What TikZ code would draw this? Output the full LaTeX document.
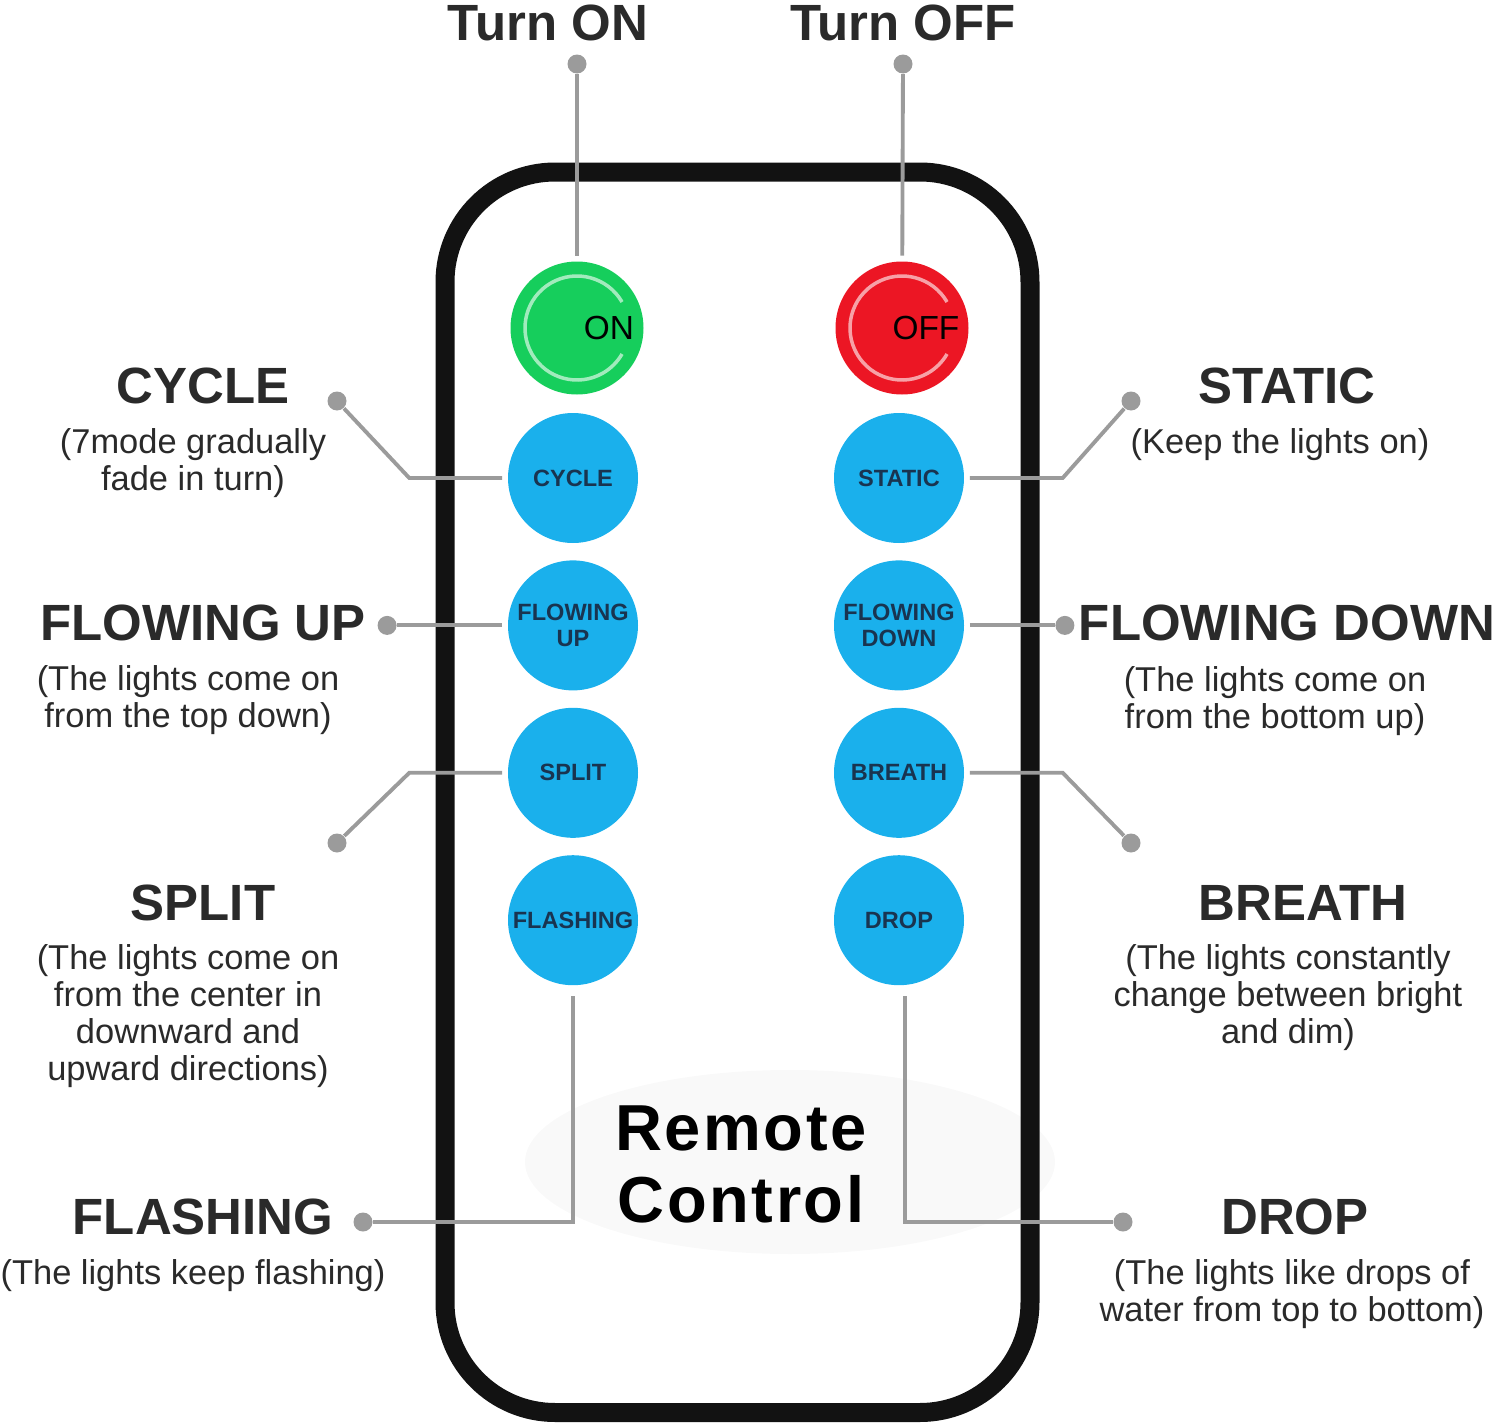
\documentclass[tikz,border=0pt]{standalone}
\usepackage{fontspec}
\setmainfont{Liberation Sans}
\usetikzlibrary{positioning}

\definecolor{btnblue}{RGB}{26,176,236}
\definecolor{btngreen}{RGB}{22,206,92}
\definecolor{btnred}{RGB}{236,22,36}
\definecolor{btntxt}{RGB}{25,52,80}
\definecolor{leadgray}{RGB}{155,155,155}
\definecolor{txtgray}{RGB}{42,42,42}
\definecolor{bodyblack}{RGB}{18,18,18}

\begin{document}
\begin{tikzpicture}[node distance=0.16cm,every node/.append style={align=center,inner sep=0pt},
    btn/.style={circle, fill=btnblue, minimum size=1.3cm, inner sep=-3pt, text=btntxt, font=\bfseries\fontsize{6.7}{7.4}\selectfont},
    pwr/.style={circle, minimum size=1.33cm},
    ttl/.style={text=txtgray, font=\bfseries\fontsize{14.5}{16}\selectfont},
    desc/.style={text=txtgray, anchor=north, font=\fontsize{9.8}{10.5}\selectfont},
    leader/.style={draw=leadgray, line width=1.1pt, shorten <=1.5pt},
    leaddot/.style={circle, fill=leadgray, minimum size=0.19cm}]
    \useasboundingbox (0,0) rectangle (15,-14.26);
    % remote body
    \fill[black!2.5] (7.9,-11.62) ellipse [x radius=2.65, y radius=0.92];
    \draw[bodyblack, line width=0.19cm, rounded corners=1.1cm] (4.45,-1.72) rectangle (10.30,-14.125);
    \node[font=\bfseries\fontsize{18.5}{20.5}\selectfont\addfontfeature{LetterSpace=4}, anchor=north] (rc) at (7.41,-11.05) {Remote\\Control};
    % buttons
    \node[pwr, fill=btngreen] (on) at (5.77,-3.28) {};
    \node[pwr, fill=btnred] (off) at (9.02,-3.28) {};
    \draw[white, opacity=0.6, line width=1pt] (on.center) ++(30:0.52) arc[start angle=30, end angle=330, radius=0.52];
    \draw[white, opacity=0.6, line width=1pt] (off.center) ++(30:0.52) arc[start angle=30, end angle=330, radius=0.52];
    \node[font=\fontsize{9.5}{10}\selectfont] (ontxt) at ([xshift=0.32cm]on.center) {ON};
    \node[font=\fontsize{9.5}{10}\selectfont] (offtxt) at ([xshift=0.24cm]off.center) {OFF};
    \node[btn] (cycle) at (5.73,-4.78) {CYCLE};
    \node[btn, below=of cycle] (flowup) {FLOWING\\UP};
    \node[btn, below=of flowup] (split) {SPLIT};
    \node[btn, below=of split] (flash) {FLASHING};
    \node[btn] (static) at (8.99,-4.78) {STATIC};
    \node[btn, below=of static] (flowdown) {FLOWING\\DOWN};
    \node[btn, below=of flowdown] (breath) {BREATH};
    \node[btn, below=of breath] (drop) {DROP};
    % labels
    \node[ttl] (onttl) at (5.48,-0.23) {Turn ON};
    \node[ttl] (offttl) at (9.03,-0.23) {Turn OFF};
    \node[ttl] (cycttl) at (2.03,-3.86) {CYCLE};
    \node[desc] (cycdesc) at (1.93,-4.28) {(7mode gradually\\fade in turn)};
    \node[ttl] (upttl) at (2.03,-6.23) {FLOWING UP};
    \node[desc] (updesc) at (1.88,-6.65) {(The lights come on\\from the top down)};
    \node[ttl] (splttl) at (2.03,-9.03) {SPLIT};
    \node[desc] (spldesc) at (1.88,-9.44) {(The lights come on\\from the center in\\downward and\\upward directions)};
    \node[ttl] (flattl) at (2.03,-12.17) {FLASHING};
    \node[desc] (fladesc) at (1.93,-12.59) {(The lights keep flashing)};
    \node[ttl] (stattl) at (12.87,-3.86) {STATIC};
    \node[desc] (stadesc) at (12.80,-4.28) {(Keep the lights on)};
    \node[ttl] (dnttl) at (12.87,-6.23) {FLOWING DOWN};
    \node[desc] (dndesc) at (12.75,-6.66) {(The lights come on\\from the bottom up)};
    \node[ttl] (brettl) at (13.03,-9.03) {BREATH};
    \node[desc] (bredesc) at (12.88,-9.44) {(The lights constantly\\change between bright\\and dim)};
    \node[ttl] (drottl) at (12.95,-12.17) {DROP};
    \node[desc] (drodesc) at (12.92,-12.59) {(The lights like drops of\\water from top to bottom)};
    % leader dots
    \node[leaddot] (ondot) at (5.77,-0.64) {};
    \node[leaddot] (offdot) at (9.03,-0.64) {};
    \node[leaddot] (cycdot) at (3.37,-4.01) {};
    \node[leaddot, left=1.1cm of flowup] (updot) {};
    \node[leaddot] (spldot) at (3.37,-8.43) {};
    \node[leaddot] (fladot) at (3.63,-12.22) {};
    \node[leaddot] (stadot) at (11.31,-4.01) {};
    \node[leaddot, right=0.9cm of flowdown] (dndot) {};
    \node[leaddot] (bredot) at (11.31,-8.43) {};
    \node[leaddot] (drodot) at (11.23,-12.22) {};
    % leaders
    \draw[leader] (on) -- (ondot);
    \draw[leader] (off) -- (offdot);
    \draw[leader] (cycle.west) -- ++(-0.98,0) -- (cycdot);
    \draw[leader] (flowup.west) -- (updot);
    \draw[leader] (split.west) -- ++(-0.98,0) -- (spldot);
    \draw[leader, shorten <=3pt] (flash.south) |- (fladot);
    \draw[leader] (static.east) -- ++(0.98,0) -- (stadot);
    \draw[leader] (flowdown.east) -- (dndot);
    \draw[leader] (breath.east) -- ++(0.98,0) -- (bredot);
    \draw[leader, shorten <=3pt] ([xshift=0.06cm]drop.south) |- (drodot);
\end{tikzpicture}
\end{document}
